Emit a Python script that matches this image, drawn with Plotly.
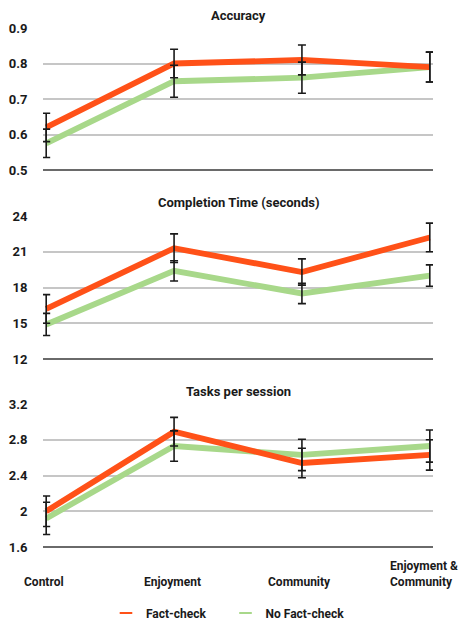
import plotly.graph_objects as go

categories = ["Control", "Enjoyment", "Community", "Enjoyment &<br>Community"]
series_names = ["Fact-check", "No Fact-check"]

acc_fc = [0.62, 0.80, 0.81, 0.79]
acc_fc_err = [0.04, 0.04, 0.042, 0.042]
acc_nfc = [0.575, 0.75, 0.76, 0.79]
acc_nfc_err = [0.04, 0.045, 0.044, 0.042]

time_fc = [16.2, 21.3, 19.3, 22.2]
time_fc_err = [1.2, 1.2, 1.1, 1.2]
time_nfc = [14.9, 19.4, 17.5, 19.0]
time_nfc_err = [0.93, 0.85, 0.85, 0.9]

tasks_fc = [2.0, 2.89, 2.54, 2.63]
tasks_fc_err = [0.17, 0.16, 0.165, 0.17]
tasks_nfc = [1.92, 2.73, 2.63, 2.73]
tasks_nfc_err = [0.18, 0.17, 0.175, 0.18]

panel_titles = ["Accuracy", "Completion Time (seconds)", "Tasks per session"]
acc_ticks = [0.5, 0.6, 0.7, 0.8, 0.9]
acc_ticktext = ["0.5", "0.6", "0.7", "0.8", "0.9"]
time_ticks = [12, 15, 18, 21, 24]
time_ticktext = ["12", "15", "18", "21", "24"]
tasks_ticks = [1.6, 2.0, 2.4, 2.8, 3.2]
tasks_ticktext = ["1.6", "2", "2.4", "2.8", "3.2"]

ORANGE = "#FF5118"
GREEN = "#A8D88A"
FONT = "Roboto, Liberation Sans, sans-serif"
TXT = "#1a1a1a"

x_idx = list(range(len(categories)))

panels = [
    (acc_fc, acc_fc_err, acc_nfc, acc_nfc_err, acc_ticks, acc_ticktext),
    (time_fc, time_fc_err, time_nfc, time_nfc_err, time_ticks, time_ticktext),
    (tasks_fc, tasks_fc_err, tasks_nfc, tasks_nfc_err, tasks_ticks, tasks_ticktext),
]

domains = [[0.7264, 1.0], [0.3622, 0.6378], [0.0, 0.2755]]
PAD = 0.025

fig = go.Figure()
layout = {}
for i, (fc, fce, nfc, nfce, tv, tt) in enumerate(panels):
    n = "" if i == 0 else str(i + 1)
    xa, ya = "x" + n, "y" + n
    fig.add_trace(go.Scatter(x=x_idx, y=nfc, mode="lines", line=dict(color=GREEN, width=5.8),
                             xaxis=xa, yaxis=ya, showlegend=False))
    fig.add_trace(go.Scatter(x=x_idx, y=fc, mode="lines", line=dict(color=ORANGE, width=5.8),
                             xaxis=xa, yaxis=ya, showlegend=False))
    for vals, errs in ((nfc, nfce), (fc, fce)):
        fig.add_trace(go.Scatter(x=x_idx, y=vals, mode="markers", marker=dict(opacity=0, size=1),
                                 error_y=dict(type="data", array=errs, visible=True, color=TXT,
                                              thickness=1.6, width=4),
                                 xaxis=xa, yaxis=ya, showlegend=False, hoverinfo="skip"))
    layout["xaxis" + n] = dict(domain=[0, 1], range=[-PAD, 3 + PAD], showgrid=False, zeroline=False,
                               showticklabels=False, anchor=ya, showline=False)
    layout["yaxis" + n] = dict(domain=domains[i], range=[tv[0], tv[-1]], tickvals=tv, ticktext=tt,
                               showgrid=True, gridcolor="#c6c6c6", gridwidth=2, zeroline=False,
                               showline=False, anchor=xa, ticks="outside", ticklen=12,
                               tickcolor="rgba(0,0,0,0)",
                               tickfont=dict(family=FONT, size=13, color=TXT, weight="bold"))
    fig.add_annotation(text="<b>%s</b>" % panel_titles[i], xref=xa + " domain", yref=ya + " domain",
                       x=0.5, y=1, yanchor="middle", yshift=13, showarrow=False,
                       font=dict(family=FONT, size=13, color=TXT))
    fig.add_shape(type="line", xref=xa + " domain", yref=ya + " domain", x0=0, x1=1, y0=0, y1=0,
                  line=dict(color="#6a6a6a", width=2))

for j, cat in enumerate(categories):
    last = j == len(categories) - 1
    fig.add_annotation(text="<b>%s</b>" % cat, xref="x3", yref="paper", x=j, y=0, yshift=-44,
                       yanchor="bottom", xanchor="right" if last else "center",
                       xshift=30 if last else -2,
                       showarrow=False, align="left",
                       font=dict(family=FONT, size=12, color=TXT))

legend_x = [0.1615, 0.468]
for k, (name, col) in enumerate(zip(series_names, [ORANGE, GREEN])):
    fig.add_trace(go.Scatter(x=[None], y=[None], mode="markers", name="<b>%s</b>" % name,
                             marker=dict(symbol="line-ew", size=9, color=col,
                                         line=dict(color=col, width=2)),
                             xaxis="x3", yaxis="y3", legend="legend" if k == 0 else "legend2"))

legend_common = dict(orientation="h", xanchor="left", y=-0.127, yanchor="middle",
                     font=dict(family=FONT, size=12, color=TXT), bgcolor="rgba(0,0,0,0)")

fig.update_layout(
    **layout,
    width=462, height=622,
    margin=dict(l=43, r=29, t=28, b=75, autoexpand=False),
    paper_bgcolor="white", plot_bgcolor="white",
    showlegend=True, hovermode=False,
    legend=dict(x=legend_x[0], **legend_common),
    legend2=dict(x=legend_x[1], **legend_common),
)

fig.write_html("out.html", config={"displayModeBar": False},
               post_script="document.body.style.margin='0';document.body.style.overflow='hidden';")
